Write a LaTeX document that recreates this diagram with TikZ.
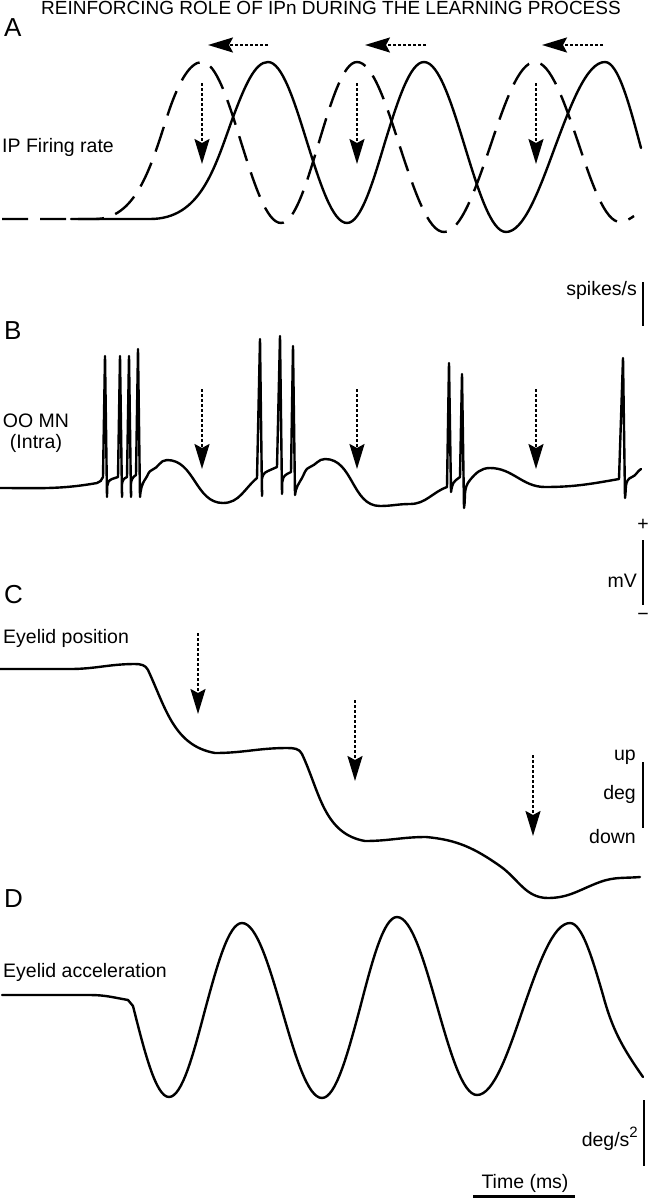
\documentclass[tikz,border=0pt]{standalone}
\usepackage{fontspec}
\setmainfont{Liberation Sans}
\usetikzlibrary{arrows.meta}
\tikzset{
  trace/.style={line width=2.4pt, line join=round, line cap=round},
  dtrace/.style={line width=2.4pt, dash pattern=on 26pt off 12pt},
  darrow/.style={line width=2.2pt, dash pattern=on 3pt off 2pt, -{Stealth[length=25pt,width=15pt,inset=4pt]}},
  lbl/.style={font=\fontsize{19.5}{22}\selectfont, inner sep=0pt},
  ttl/.style={font=\fontsize{19}{22}\selectfont, inner sep=0pt},
  panel/.style={font=\fontsize{26}{28}\selectfont, inner sep=0pt},
  sbar/.style={line width=2.5pt}
}
\begin{document}
\begin{tikzpicture}[x=1pt,y=-1pt]
\useasboundingbox (0,0) rectangle (648,1199);

% ---------- titles and labels ----------
\node[ttl, anchor=base] (title) at (331,15) {REINFORCING ROLE OF IPn DURING THE LEARNING PROCESS};
\node[panel, anchor=base west] (pA) at (4,37) {A};
\node[panel, anchor=base west] (pB) at (4,339) {B};
\node[panel, anchor=base west] (pC) at (4,603) {C};
\node[panel, anchor=base west] (pD) at (4,907) {D};

\node[lbl, anchor=base west] (ipfr) at (2,152) {IP Firing rate};
\node[lbl, anchor=base] (oomn) at (36,427) {OO MN};
\node[lbl, anchor=base] (intra) at (36,448) {(Intra)};
\node[lbl, anchor=base west] (eyepos) at (3,643) {Eyelid position};
\node[lbl, anchor=base west] (eyeacc) at (3,977) {Eyelid acceleration};

% ---------- scale bars ----------
\node[lbl, anchor=base east] (spk) at (637,295) {spikes/s};
\draw[sbar] (643,282) -- (643,326);
\node[lbl] (plus) at (643,525) {+};
\node[lbl, anchor=base east] (mv) at (637,587) {mV};
\node[lbl] (minus) at (643,617) {−};
\draw[sbar] (643,540) -- (643,605);
\node[lbl, anchor=base east] (up) at (636,760) {up};
\node[lbl, anchor=base east] (deg) at (636,799) {deg};
\node[lbl, anchor=base east] (down) at (636,843) {down};
\draw[sbar] (643,762) -- (643,828);
\node[lbl, anchor=base east] (degs) at (638,1146) {deg/s\raisebox{9pt}{\fontsize{15}{15}\selectfont 2}};
\draw[sbar] (644,1100) -- (644,1166);
\node[lbl, anchor=base] (time) at (525,1188) {Time (ms)};
\draw[line width=3pt] (473,1196) -- (575,1196);

% ---------- panel A ----------
\draw[dtrace] (2,219) -- (95,219) .. controls (135,219) and (150,170) .. (166,120)
  .. controls (177,85) and (189,62) .. (202,62) cos (241,142) sin (281,223)
  cos (319,142) sin (357,62) cos (400,147) sin (444,232) cos (490,147) sin (535,62)
  cos (578,142) sin (620,222) cos (634,216);
\draw[trace] (71,219) -- (150,219) .. controls (200,219) and (214,170) .. (232,120)
  .. controls (245,85) and (255,62) .. (268,62) cos (307,142) sin (347,223)
  cos (385,142) sin (424,62) cos (465,147) sin (506,232) cos (555,147) sin (605,62)
  cos (641,148);
\foreach \x in {202,357,536} \draw[darrow] (\x,83) -- (\x,164);
\draw[darrow] (268,45) -- (208,45);
\draw[darrow] (426,45) -- (365,45);
\draw[darrow] (603,45) -- (542,45);

% ---------- panel B ----------
\draw[trace] (0,488) to[out=0,in=190] (97,483) to[out=10,in=-115] (103,477) -- (105,356) -- (107,497)
  to[out=85,in=200] (112,479) -- (118,477) -- (120,356) -- (122,497)
  to[out=85,in=200] (127,477) -- (129,356) -- (131,497)
  to[out=85,in=210] (136,475) -- (138,349) -- (140,497)
  to[out=85,in=235] (146,478) to[out=55,in=200] (152,470) to[out=20,in=180] (167,460)
  to[out=0,in=180] (223,503) to[out=0,in=220] (257,478) -- (260,339) -- (262,496)
  to[out=85,in=200] (268,471) -- (277,467) -- (280,336) -- (282,494)
  to[out=85,in=210] (287,474) -- (291,472) -- (293,346) -- (295,495)
  to[out=85,in=240] (302,478) to[out=60,in=200] (310,467) to[out=20,in=180] (325,459)
  to[out=0,in=180] (380,506) to[out=0,in=180] (410,504) to[out=0,in=200] (447,487)
  -- (449,363) -- (451,492) to[out=80,in=220] (456,480) -- (460,477) -- (462,374) -- (464,508)
  to[out=80,in=230] (470,480) to[out=50,in=180] (490,468) to[out=0,in=180] (545,487)
  to[out=0,in=190] (619,479) -- (623,358) -- (625,498) to[out=80,in=200] (632,477)
  to[out=20,in=210] (641,469);
\foreach \x in {202,357,536} \draw[darrow] (\x,389) -- (\x,469);

% ---------- panel C ----------
\draw[trace] (0,669) -- (70,669) to[out=0,in=180] (135,664) to[out=0,in=115] (148,670)
  to[out=-65,in=170] (215,753) to[out=0,in=180] (287,748) to[out=0,in=115] (302,754)
  to[out=-65,in=170] (365,841) to[out=0,in=180] (426,837) to[out=-5,in=145] (500,866)
  to[out=-35,in=180] (548,898) to[out=0,in=200] (600,882) to[out=20,in=185] (640,877);
\draw[darrow] (198,633) -- (198,714);
\draw[darrow] (355,700) -- (355,781);
\draw[darrow] (533,755) -- (533,836);

% ---------- panel D ----------
\draw[trace] (2,995) -- (90,995) to[out=0,in=170] (128,1000) -- (133,1006) sin (169,1097)
  cos (205,1010) sin (242,923) cos (282,1010) sin (322,1098) cos (360,1008) sin (397,917)
  cos (437,1006) sin (477,1095) cos (523,1009) sin (570,923) cos (603,995)
  to[out=-75,in=125] (643,1077);
\end{tikzpicture}
\end{document}
